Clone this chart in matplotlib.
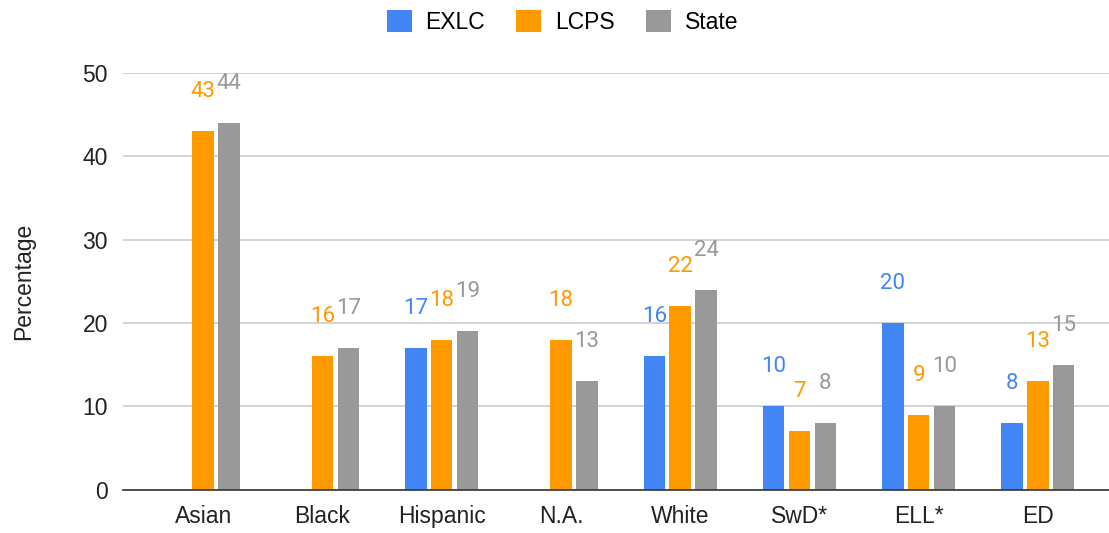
import numpy as np
import matplotlib.pyplot as plt
from matplotlib.patches import Patch

plt.rcParams['font.family'] = ['Liberation Sans', 'DejaVu Sans']

# данные
groups = ["Asian", "Black", "Hispanic", "N.A.", "White", "SwD*", "ELL*", "ED"]
exlc = [np.nan, np.nan, 17, np.nan, 16, 10, 20, 8]
lcps = [43, 16, 18, 18, 22, 7, 9, 13]
state = [44, 17, 19, 13, 24, 8, 10, 15]
series = ["EXLC", "LCPS", "State"]
colors = ["#4285F4", "#FF9900", "#999999"]

fig = plt.figure(figsize=[11.09, 5.33], dpi=100)
ax = fig.add_axes([0.111, 0.081, 0.889, 0.782])

x = np.arange(len(groups))
w = 0.18
step = 0.2166
for k, (vals, col) in enumerate(zip([exlc, lcps, state], colors)):
    pos = x + (k - 1) * step
    for xi, v in zip(pos, vals):
        if np.isnan(v):
            continue
        ax.bar(xi, v, width=w, color=col, zorder=3)
        ax.annotate(f"{v:g}", (xi, v), xytext=(0, 21), textcoords="offset points",
                    ha="center", va="bottom", color=col, fontsize=16,
                    family=["Roboto", "DejaVu Sans"], annotation_clip=False)

ax.set_xlim(-0.672, 7.596)
ax.set_ylim(0, 50)
ax.set_yticks([0, 10, 20, 30, 40, 50])
ax.set_xticks(x)
ax.set_xticklabels(groups)
ax.tick_params(axis="both", length=0, labelsize=16.5, colors="#222222")
ax.tick_params(axis="y", pad=11)
ax.tick_params(axis="x", pad=11)
ax.grid(axis="y", color="#cccccc", linewidth=1.2, zorder=0)
for s in ["top", "right", "left"]:
    ax.spines[s].set_visible(False)
ax.spines["bottom"].set_color("#333333")
ax.spines["bottom"].set_linewidth(1.2)
ax.spines["bottom"].set_zorder(4)
ax.set_ylabel("Percentage", fontsize=16.5, labelpad=34, color="#222222")

handles = [Patch(facecolor=c, label=s) for s, c in zip(series, colors)]
fig.legend(handles=handles, loc="upper center", bbox_to_anchor=(0.507, 1.02),
           ncol=3, frameon=False, fontsize=16.5, handlelength=1.1, handleheight=1.1,
           columnspacing=1.35, handletextpad=0.6)

fig.savefig("out.png", dpi=100)
